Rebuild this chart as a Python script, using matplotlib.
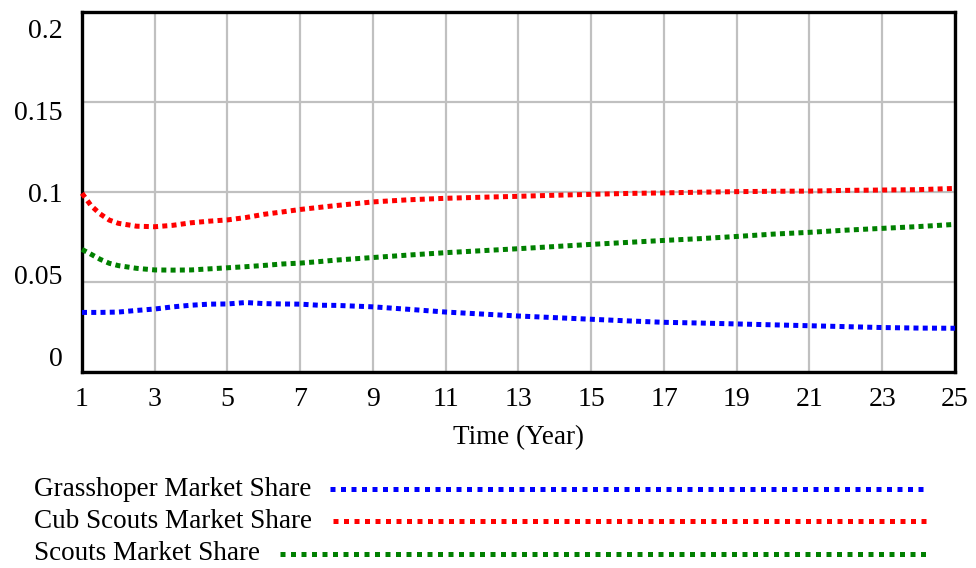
import numpy as np
import matplotlib.pyplot as plt
from matplotlib.lines import Line2D
from matplotlib.transforms import ScaledTranslation

# data (Time in years)
time = [1, 1.25, 1.5, 1.75, 2, 2.5, 3, 3.5, 4, 4.5, 5, 5.5, 6, 6.5, 7, 7.5,
        8, 9, 10, 11, 12, 13, 14, 15, 16, 17, 18, 19, 20, 21, 22, 23, 24, 25]
grasshoper = [0.0331, 0.0331, 0.0331, 0.0332, 0.0333, 0.0342, 0.0350, 0.0362, 0.0371,
              0.0377, 0.0378, 0.0386, 0.0380, 0.0378, 0.0377, 0.0371,
              0.0370, 0.0362, 0.0348, 0.0333, 0.0322, 0.0311, 0.0302, 0.0293, 0.0284,
              0.0276, 0.0272, 0.0267, 0.0262, 0.0257, 0.0252, 0.0247, 0.0244, 0.0243]
cub_scouts = [0.0993, 0.0924, 0.0878, 0.0844, 0.0826, 0.0810, 0.0807, 0.0815, 0.0829,
              0.0838, 0.0845, 0.0858, 0.0876, 0.0889, 0.0903, 0.0914,
              0.0925, 0.0945, 0.0957, 0.0965, 0.0971, 0.0976, 0.0982, 0.0987, 0.0992,
              0.0995, 0.0999, 0.1002, 0.1004, 0.1005, 0.1009, 0.1011, 0.1013, 0.1020]
scouts = [0.0681, 0.0654, 0.0626, 0.0604, 0.0591, 0.0576, 0.0567, 0.0566, 0.0567,
          0.0573, 0.0579, 0.0585, 0.0592, 0.0600, 0.0605, 0.0613,
          0.0622, 0.0636, 0.0650, 0.0663, 0.0674, 0.0685, 0.0697, 0.0709, 0.0720,
          0.0731, 0.0741, 0.0753, 0.0766, 0.0776, 0.0788, 0.0798, 0.0808, 0.0820]

series = [("Grasshoper Market Share", grasshoper, "#0000ff"),
          ("Cub Scouts Market Share", cub_scouts, "#ff0000"),
          ("Scouts Market Share", scouts, "#008000")]

xticks = list(range(1, 26, 2))
yticks = [0, 0.05, 0.1, 0.15, 0.2]
ytick_labels = ["0", "0.05", "0.1", "0.15", "0.2"]

plt.rcParams['font.family'] = ['Liberation Serif', 'DejaVu Serif']

fig = plt.figure(figsize=(9.76, 5.68), dpi=100)
ax = fig.add_axes([82 / 976, 1 - 372 / 568, 873 / 976, 360 / 568])

for name, vals, col in series:
    ax.plot(time, vals, color=col, lw=3.6, linestyle=(0, (1, 0.85)),
            dash_capstyle='butt', solid_capstyle='butt', clip_on=False, zorder=3)

ax.set_xlim(1, 25)
ax.set_ylim(0, 0.2)
ax.set_xticks(xticks)
ax.set_yticks(yticks)
ax.set_yticklabels(ytick_labels)
ax.grid(True, color="#c0c0c0", lw=1.6)
ax.set_axisbelow(True)
for sp in ax.spines.values():
    sp.set_linewidth(2.4)
    sp.set_color("black")
ax.tick_params(axis='both', length=0, labelsize=20)
ax.tick_params(axis='y', pad=14)
ax.tick_params(axis='x', pad=11)

# Vensim spreads the y labels a bit inside the axis range
offsets = {0: 16, 0.05: 8, 0.1: 0, 0.15: -8, 0.2: -17}
for val, lab in zip(yticks, ax.get_yticklabels()):
    dy = offsets[val] / 100
    lab.set_transform(lab.get_transform() + ScaledTranslation(0, dy, fig.dpi_scale_trans))

ax.set_xlabel("Time (Year)", fontsize=19.5, labelpad=9)

# legend drawn below the chart
rows_y = [1 - 489 / 568, 1 - 521 / 568, 1 - 554 / 568]
line_start = [330 / 976, 333 / 976, 280 / 976]
for (name, vals, col), yy, x0 in zip(series, rows_y, line_start):
    fig.text(34 / 976, yy, name, fontsize=19.5, va='center', ha='left')
    fig.add_artist(Line2D([x0, 927 / 976], [yy, yy], color=col, lw=3.6,
                          linestyle=(0, (1, 1.1)), dash_capstyle='butt'))

fig.savefig("out.png", dpi=100)
